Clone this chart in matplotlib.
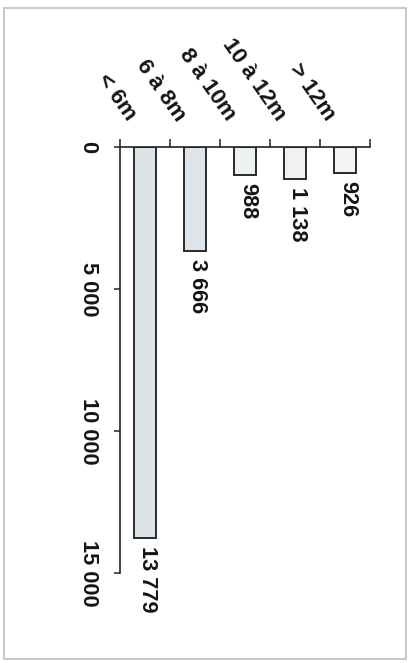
import matplotlib
matplotlib.use("Agg")
import matplotlib.pyplot as plt
from matplotlib.patches import Rectangle

categories = ["< 6m", "6 à 8m", "8 à 10m", "10 à 12m", "> 12m"]
values = [13779, 3666, 988, 1138, 926]
value_labels = ["13 779", "3 666", "988", "1 138", "926"]
yticks = [0, 5000, 10000, 15000]
ytick_labels = ["0", "5 000", "10 000", "15 000"]
bar_colors = ["#dce4e8", "#dde5ea", "#eef1f2", "#f0f2f2", "#f2f3f3"]

plt.rcParams['font.family'] = ['Liberation Sans', 'DejaVu Sans']
FS = 15.7
FS_CAT = 16.2
TXT = "#151515"

W, H = 412, 663
fig = plt.figure(figsize=(W / 100, H / 100), dpi=100)
fig.patch.set_facecolor("white")

# outer frame
fig.add_artist(Rectangle((4 / W, 1 - 659 / H), 402 / W, 651 / H,
                         transform=fig.transFigure, fill=False,
                         edgecolor="#c4c4c4", linewidth=1.3))

ax = fig.add_axes([120 / W, 1 - 573 / H, 250 / W, 426 / H])
ax.set_facecolor("none")
x = list(range(len(categories)))
ax.bar(x, values, width=0.44, color=bar_colors, edgecolor="#2a2a2a", linewidth=1.4)
ax.set_xlim(-0.5, len(categories) - 0.5)
ax.set_ylim(15000, 0)

for s in ["right", "bottom"]:
    ax.spines[s].set_visible(False)
for s in ["left", "top"]:
    ax.spines[s].set_linewidth(1.2)
    ax.spines[s].set_color("#222222")

# category axis on top, ticks at boundaries
ax.xaxis.tick_top()
ax.set_xticks([i - 0.5 for i in range(len(categories) + 1)])
ax.set_xticklabels([])
ax.tick_params(axis="x", direction="out", length=6, width=1.1, color="#222222")

# value axis
ax.set_yticks(yticks)
ax.set_yticklabels(ytick_labels)
ax.tick_params(axis="y", direction="out", length=4, width=1.1, color="#222222",
               pad=19, labelsize=FS, labelcolor=TXT)
for lab in ax.get_yticklabels():
    lab.set_rotation(-90)
    lab.set_ha("center")
    lab.set_va("center")
    lab.set_fontweight("bold")

# category labels
for i, c in enumerate(categories):
    ax.annotate(c, xy=(i, 1), xycoords=("data", "axes fraction"),
                xytext=(-14, 28), textcoords="offset pixels",
                rotation=-55, rotation_mode="anchor", ha="right", va="center",
                fontsize=FS_CAT, fontweight="bold", color=TXT)

# value labels
for i, (v, t) in enumerate(zip(values, value_labels)):
    ax.annotate(t, xy=(i, v), xytext=(3, -8), textcoords="offset pixels",
                rotation=-90, ha="center", va="top",
                fontsize=FS, fontweight="bold", color=TXT)

fig.savefig("out.png", dpi=100)
